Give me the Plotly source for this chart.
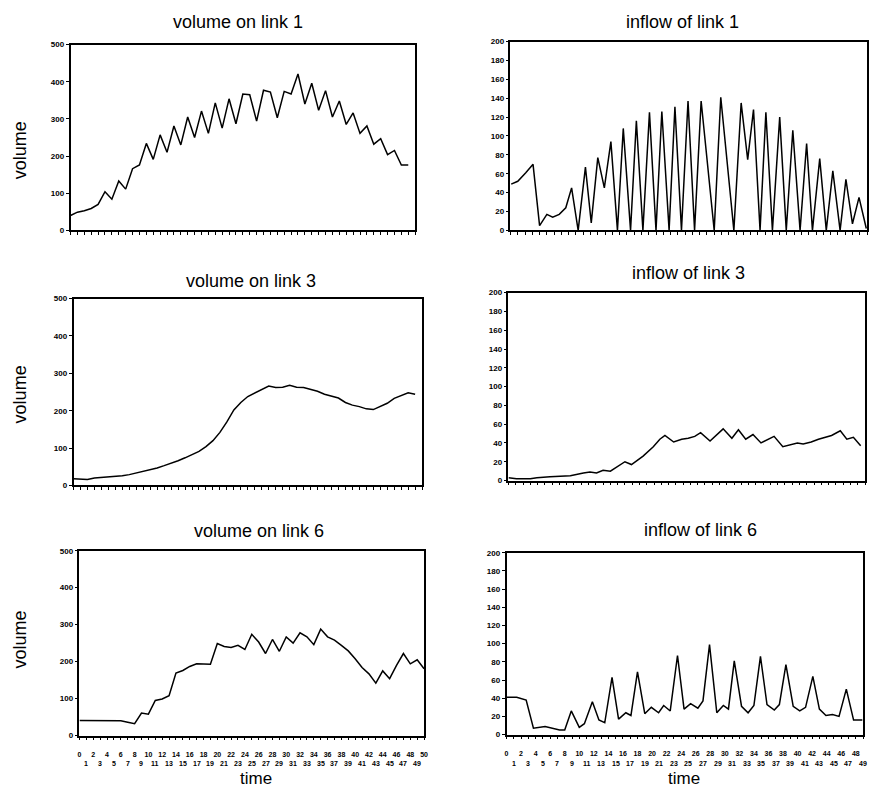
import plotly.graph_objects as go

# ---------------- data ----------------
vol1_t = list(range(50))
vol1 = [40, 49, 53, 59, 70, 104, 84, 133, 111, 166, 176, 234, 191, 257, 210, 281, 230, 305, 250, 321,
        261, 343, 275, 354, 287, 367, 365, 294, 377, 372, 303, 374, 367, 421, 340, 396, 323, 376, 305, 348,
        285, 316, 261, 281, 232, 247, 204, 215, 176, 176]

in1_t = [0.1, 1.0, 2.1, 3.1, 4.0, 5.0, 5.8, 6.7, 7.6, 8.4, 9.3, 10.3, 11.1, 12.0, 12.9, 13.8, 14.7, 15.5,
         16.5, 17.3, 18.2, 19.1, 20.0, 20.8, 21.8, 22.6, 23.5, 24.4, 25.3, 26.2, 28.0, 28.9, 30.7, 31.7,
         32.6, 33.4, 34.3, 35.1, 36.0, 37.0, 37.9, 38.8, 39.8, 40.7, 41.5, 42.5, 43.4, 44.3, 45.3, 46.1,
         47.0, 47.9, 48.9]
in1 = [49, 52, 61, 70, 5, 17, 14, 17, 24, 45, 0, 67, 8, 77, 45, 94, 0, 108, 0, 116, 0, 125, 0, 126, 0,
       131, 0, 137, 0, 137, 0, 141, 0, 135, 75, 128, 0, 125, 0, 120, 0, 106, 0, 92, 0, 76, 0, 63, 0, 54,
       7, 35, 2]

vol3_t = list(range(50))
vol3 = [18, 17, 16, 20, 21, 22, 24, 26, 29, 33, 37, 42, 47, 53, 59, 66, 74, 83, 91, 104,
        120, 142, 170, 202, 222, 238, 248, 257, 266, 262, 263, 268, 263, 262, 258, 252, 244, 238, 234, 222,
        215, 211, 205, 203, 211, 220, 233, 241, 248, 244]

in3_t = [0, 1.1, 3.0, 3.9, 5.7, 8.5, 10.3, 11.2, 12.1, 13.0, 14.0, 16.0, 16.9, 18.5, 19.9, 20.8, 21.5,
         22.7, 23.8, 24.7, 25.6, 26.4, 27.7, 29.5, 30.7, 31.6, 32.6, 33.6, 34.7, 36.5, 37.7, 38.7, 39.7,
         40.5, 41.6, 42.6, 43.5, 44.4, 45.6, 46.5, 47.4, 48.4]
in3 = [3, 2, 2, 3, 4, 5, 8, 9, 8, 11, 10, 20, 17, 26, 36, 44, 48, 41, 44, 45, 47, 51, 42, 55, 45, 54, 44,
       49, 40, 47, 36, 38, 40, 39, 41, 44, 46, 48, 53, 44, 46, 37]

vol6_t = list(range(51))
vol6 = [41, 41, 40, 39, 40, 40, 40, 36, 32, 61, 58, 95, 99, 108, 169, 176, 187, 194, 193, 193,
        249, 241, 238, 244, 233, 274, 253, 222, 260, 228, 267, 250, 278, 267, 246, 288, 267, 258, 244, 229,
        208, 184, 167, 142, 175, 154, 190, 222, 194, 205, 181]

in6_t = [0, 1.4, 2.7, 3.7, 5.3, 6.4, 7.3, 8.0, 8.9, 10.0, 10.7, 11.8, 12.7, 13.5, 14.5, 15.4, 16.4, 17.1,
         18.0, 19.0, 19.9, 20.9, 21.6, 22.5, 23.5, 24.4, 25.3, 26.3, 27.0, 27.9, 28.9, 29.8, 30.5, 31.3,
         32.3, 33.2, 34.0, 34.9, 35.8, 36.8, 37.5, 38.4, 39.4, 40.3, 41.1, 42.1, 43.0, 43.9, 44.8, 45.7,
         46.7, 47.7, 48.9]
in6 = [41, 41, 38, 7, 9, 7, 5, 5, 26, 8, 12, 36, 16, 13, 63, 17, 24, 21, 69, 23, 30, 24, 32, 26, 87, 28,
       34, 29, 37, 99, 24, 32, 28, 81, 31, 24, 32, 86, 33, 27, 33, 77, 31, 26, 30, 64, 28, 21, 22, 20, 50,
       16, 16]

titles = ["volume on link 1", "inflow of link 1",
          "volume on link 3", "inflow of link 3",
          "volume on link 6", "inflow of link 6"]
vol_ticks = [0, 100, 200, 300, 400, 500]
inflow_ticks = [0, 20, 40, 60, 80, 100, 120, 140, 160, 180, 200]
time_left = list(range(51))
time_right = list(range(50))

# ---------------- layout ----------------
W, H = 874, 792
# panel boxes in pixels: x0, x1, y0, y1 (y from top)
boxes = [(69, 416, 41, 229), (512, 871, 38, 229),
         (72, 423, 298, 487), (510, 869, 292, 482),
         (78, 425, 553, 740), (508, 867, 555, 739)]
series = [(vol1_t, vol1), (in1_t, in1), (vol3_t, vol3), (in3_t, in3), (vol6_t, vol6), (in6_t, in6)]
title_pos = [(238, 18), (685, 18), (251, 280), (691, 272), (259, 533), (703, 532)]

fig = go.Figure()
lab_font = dict(family="Liberation Sans, Arial", size=8, color="black", weight="bold")
xlab_font = dict(family="Liberation Sans, Arial", size=7, color="black", weight="bold")
ann = []
for i, (box, (tx, ty)) in enumerate(zip(boxes, series)):
    n = "" if i == 0 else str(i + 1)
    x0, x1, y0, y1 = box
    is_left = i % 2 == 0
    bottom = i >= 4
    fig.add_trace(go.Scatter(x=tx, y=ty, mode="lines", line=dict(color="black", width=1.5),
                             xaxis="x" + n, yaxis="y" + n, showlegend=False))
    tvals = time_left if is_left else time_right
    xr = [0, 50] if is_left else [0, 49]
    # main axis: every tick mark, even labels on the first row
    fig.layout["xaxis" + n] = dict(
        domain=[x0 / W, x1 / W], anchor="y" + n, range=xr,
        tickvals=tvals, ticktext=[str(v) if v % 2 == 0 else "" for v in tvals],
        showticklabels=bottom,
        ticks="outside", ticklen=3, tickwidth=1, tickcolor="black",
        showline=True, linewidth=1.5, linecolor="black", mirror=True,
        showgrid=False, zeroline=False, tickfont=xlab_font, tickangle=0,
        ticklabelstandoff=8,
    )
    if bottom:
        # odd labels on a second, staggered row
        for v in tvals:
            if v % 2 == 1:
                ann.append(dict(text=str(v), x=v, xref="x" + n, y=1 - 768 / H, yref="paper",
                                xanchor="center", yanchor="middle", showarrow=False,
                                font=xlab_font, borderpad=0))
    yt = vol_ticks if is_left else inflow_ticks
    fig.layout["yaxis" + n] = dict(
        domain=[1 - y1 / H, 1 - y0 / H], anchor="x" + n,
        range=[0, 500] if is_left else [0, 200],
        tickvals=yt, ticktext=[str(v) for v in yt],
        ticks="outside", ticklen=3, tickwidth=1, tickcolor="black",
        showline=True, linewidth=1.5, linecolor="black", mirror=True,
        showgrid=False, zeroline=False, tickfont=lab_font,
    )

tfont = dict(family="Liberation Sans, Arial", size=18, color="black")
for t, (px, py) in zip(titles, title_pos):
    ann.append(dict(text=t, x=px / W, y=1 - py / H, xref="paper", yref="paper",
                    xanchor="center", yanchor="middle", showarrow=False, font=tfont))
for py in (148, 395, 643):
    ann.append(dict(text="volume", x=18 / W, y=1 - py / H, xref="paper", yref="paper", textangle=-90,
                    xanchor="center", yanchor="middle", showarrow=False, font=tfont))
for px in (256, 687):
    ann.append(dict(text="time", x=px / W, y=1 - 783 / H, xref="paper", yref="paper",
                    xanchor="center", yanchor="middle", showarrow=False, borderpad=0,
                    font=dict(family="Liberation Sans, Arial", size=17, color="black")))

fig.update_layout(width=W, height=H, margin=dict(l=0, r=0, t=0, b=0),
                  paper_bgcolor="white", plot_bgcolor="white", annotations=ann)
fig.write_html("out.html")
